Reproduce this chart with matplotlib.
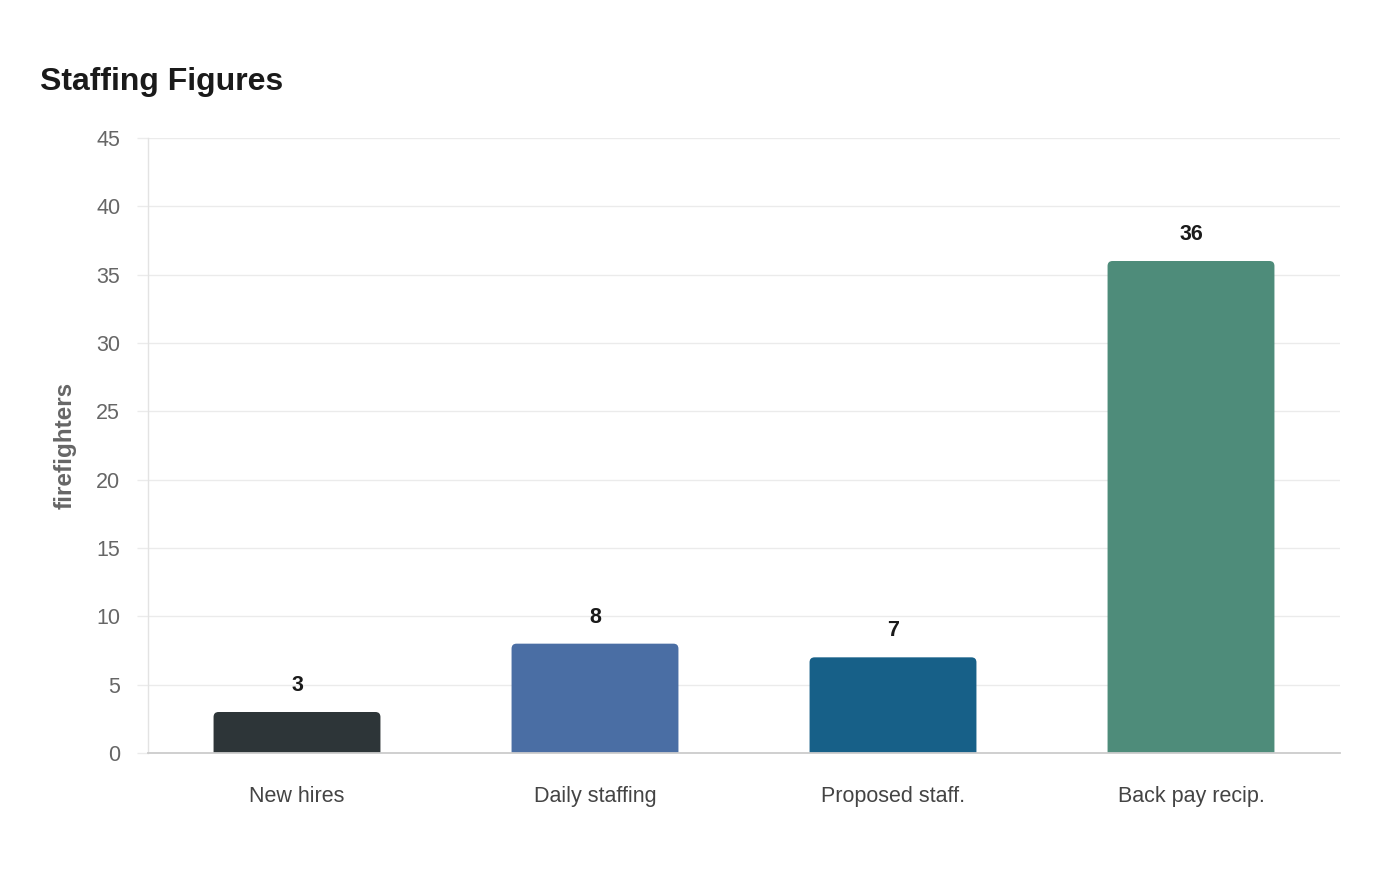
import matplotlib
matplotlib.use("Agg")
import matplotlib.pyplot as plt
from matplotlib.patches import FancyBboxPatch

categories = ["New hires", "Daily staffing", "Proposed staff.", "Back pay recip."]
values = [3, 8, 7, 36]
colors = ["#2d3538", "#4a6ea4", "#176088", "#4e8c7a"]
y_ticks = [0, 5, 10, 15, 20, 25, 30, 35, 40, 45]

plt.rcParams['font.family'] = ['Liberation Sans', 'DejaVu Sans']

fig = plt.figure(figsize=(14, 8.8), dpi=100)
ax = fig.add_axes([148/1400, 1 - 753/880, (1340-148)/1400, (753-138)/880])

x = list(range(len(categories)))
bars = ax.bar(x, values, width=0.56, color=colors)
ax.set_xlim(-0.5, len(categories) - 0.5)
ax.set_ylim(0, 45)

# rounded top corners
px_x = (len(categories)) / 1192.0
px_y = 45.0 / 615.0
r_px = 5
for b, c in zip(bars, colors):
    b.set_visible(False)
    xb, w, h = b.get_x(), b.get_width(), b.get_height()
    ext = r_px * 2 * px_y
    p = FancyBboxPatch((xb, -ext), w, h + ext,
                       boxstyle=f"round,pad=0,rounding_size={r_px*px_x}",
                       mutation_aspect=px_y / px_x,
                       facecolor=c, edgecolor='none', zorder=3)
    ax.add_patch(p)

for xi, v in zip(x, values):
    ax.annotate(str(v), (xi, v), xytext=(0, 19), textcoords='offset points',
                ha='center', va='center', fontsize=15.5, fontweight='bold',
                color='#1a1a1a')

ax.set_yticks(y_ticks)
ax.set_xticks(x)
ax.set_xticklabels(categories)
ax.grid(axis='y', color='#ebebeb', linewidth=1, zorder=0)
ax.set_axisbelow(True)
ax.tick_params(axis='y', length=8, color='#ebebeb', width=1, pad=12,
               labelsize=15.5, labelcolor='#666666')
ax.tick_params(axis='x', length=0, pad=24, labelsize=15.5, labelcolor='#444444')

for s in ['top', 'right']:
    ax.spines[s].set_visible(False)
ax.spines['left'].set_color('#e3e3e3')
ax.spines['left'].set_linewidth(1)
ax.spines['bottom'].set_color('#cccccc')
ax.spines['bottom'].set_linewidth(1.3)
ax.spines['bottom'].set_zorder(4)

ax.set_ylabel("firefighters", fontsize=17.5, fontweight='bold', color='#666666',
              labelpad=0)
ax.yaxis.set_label_coords(-(148-77)/1192, 0.5)

fig.text(40/1400, 1 - 82/880, "Staffing Figures", fontsize=23, fontweight='bold',
         color='#1a1a1a', ha='left', va='center')

fig.savefig("out.png", dpi=100, facecolor='white')
